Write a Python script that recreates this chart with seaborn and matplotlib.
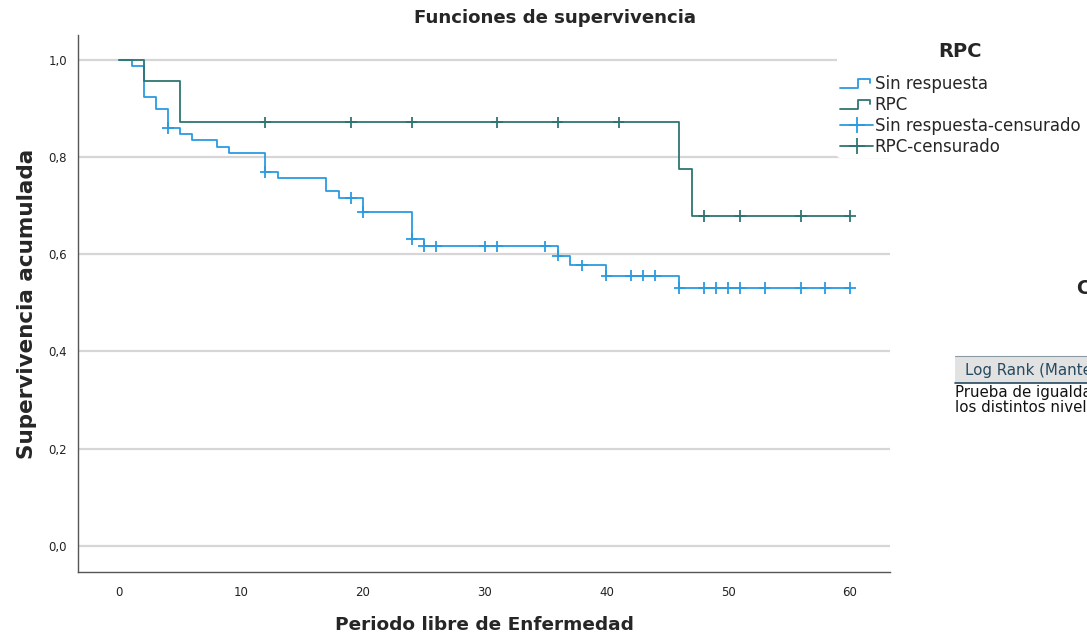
# Curvas de Kaplan-Meier (estilo SPSS) para RPC
import numpy as np
import pandas as pd
import matplotlib
matplotlib.use("Agg")
import matplotlib.pyplot as plt
from matplotlib.lines import Line2D
from matplotlib.legend_handler import HandlerBase
from matplotlib.patches import Rectangle
import seaborn as sns

sns.set_style("white")
plt.rcParams['font.family'] = ['DejaVu Sans']

# Datos
grupos = ['Sin respuesta', 'RPC']
colores = ['#2a9be0', '#2e7572']

sin_resp_t = [0, 1, 2, 3, 4, 5, 6, 8, 9, 12, 13, 17, 18, 20, 24, 25, 36, 37, 40, 46, 60]
sin_resp_s = [1.0, 0.987, 0.924, 0.898, 0.859, 0.847, 0.835, 0.820, 0.808, 0.769, 0.756,
              0.729, 0.715, 0.687, 0.631, 0.616, 0.597, 0.577, 0.556, 0.530, 0.530]
sin_resp_cens = [4, 12, 19, 20, 24, 25, 26, 30, 31, 35, 36, 38, 40, 42, 43, 44, 46,
                 48, 49, 50, 51, 53, 56, 58, 60]

rpc_t = [0, 2, 5, 46, 47, 60]
rpc_s = [1.0, 0.957, 0.871, 0.775, 0.678, 0.678]
rpc_cens = [12, 19, 24, 31, 36, 41, 48, 51, 56, 60]

y_ticks = [0.0, 0.2, 0.4, 0.6, 0.8, 1.0]
x_ticks = [0, 10, 20, 30, 40, 50, 60]

# Tablas largas para seaborn
curvas = pd.concat([
    pd.DataFrame({'t': sin_resp_t, 's': sin_resp_s, 'grupo': grupos[0]}),
    pd.DataFrame({'t': rpc_t, 's': rpc_s, 'grupo': grupos[1]}),
])


def valor_en(tiempos, surv, t):
    i = np.searchsorted(tiempos, t, side='right') - 1
    return surv[i]


censuras = pd.concat([
    pd.DataFrame({'t': sin_resp_cens,
                  's': [valor_en(sin_resp_t, sin_resp_s, c) for c in sin_resp_cens],
                  'grupo': grupos[0]}),
    pd.DataFrame({'t': rpc_cens,
                  's': [valor_en(rpc_t, rpc_s, c) for c in rpc_cens],
                  'grupo': grupos[1]}),
])
paleta = dict(zip(grupos, colores))

fig = plt.figure(figsize=(10.87, 6.39), dpi=100)
ax = fig.add_axes([78 / 1087, 1 - 572 / 639, (890 - 78) / 1087, (572 - 35) / 639])

for yv in y_ticks:
    ax.axhline(yv, color='#d6d6d6', lw=1.6, zorder=0)

sns.lineplot(data=curvas, x='t', y='s', hue='grupo', palette=paleta, estimator=None,
             sort=False, drawstyle='steps-post', lw=1.3, legend=False, ax=ax)
sns.scatterplot(data=censuras, x='t', y='s', hue='grupo', palette=paleta, marker='+',
                s=70, linewidth=1.3, legend=False, ax=ax, zorder=3)

ax.set_xlim(-3.4, 63.3)
ax.set_ylim(-0.054, 1.051)
ax.set_xticks(x_ticks)
ax.set_yticks(y_ticks)
ax.set_yticklabels([f"{v:.1f}".replace('.', ',') for v in y_ticks])
ax.tick_params(axis='both', length=0, labelsize=8.5, colors='#222222')
ax.tick_params(axis='x', pad=10)
ax.tick_params(axis='y', pad=8)
for lado in ['top', 'right']:
    ax.spines[lado].set_visible(False)
for lado in ['left', 'bottom']:
    ax.spines[lado].set_color('#555555')
    ax.spines[lado].set_linewidth(1.0)

ax.set_xlabel('Periodo libre de Enfermedad', fontsize=13.3, fontweight='bold', labelpad=12)
ax.set_ylabel('Supervivencia acumulada', fontsize=15.5, fontweight='bold', labelpad=8)
fig.text(555 / 1087, 1 - 18 / 639, 'Funciones de supervivencia', ha='center', va='center',
         fontsize=13.1, fontweight='bold')


# Leyenda con simbolo escalonado
class HandlerEscalon(HandlerBase):
    def create_artists(self, legend, orig_handle, xdescent, ydescent, width, height,
                       fontsize, trans):
        x0, y0 = -xdescent, -ydescent
        xs = [x0, x0 + width * 0.55, x0 + width * 0.55, x0 + width * 0.9, x0 + width * 0.9]
        ys = [y0 + height * 0.1, y0 + height * 0.1, y0 + height * 0.85, y0 + height * 0.85,
              y0 + height * 0.45]
        ln = Line2D(xs, ys, color=orig_handle.get_color(), lw=1.3, transform=trans)
        return [ln]


h_sr = Line2D([], [], color=colores[0])
h_rpc = Line2D([], [], color=colores[1])
h_sr_c = Line2D([], [], color=colores[0], marker='+', markersize=11, lw=1.3, mew=1.3)
h_rpc_c = Line2D([], [], color=colores[1], marker='+', markersize=11, lw=1.3, mew=1.3)
leg = fig.legend([h_sr, h_rpc, h_sr_c, h_rpc_c],
                 ['Sin respuesta', 'RPC', 'Sin respuesta-censurado', 'RPC-censurado'],
                 handler_map={h_sr: HandlerEscalon(), h_rpc: HandlerEscalon()},
                 title='RPC', loc='upper left', bbox_to_anchor=(829 / 1087, 1 - 31 / 639),
                 frameon=True, facecolor='white', edgecolor='none', framealpha=1.0,
                 fontsize=12, handlelength=2.0, handletextpad=0.1,
                 labelspacing=0.18, borderpad=0.15)
leg.get_title().set_fontweight('bold')
leg.get_title().set_fontsize(14)
leg._legend_box.sep = 10

# Restos de la tabla de SPSS a la derecha
fig.text(1077 / 1087, 1 - 288 / 639, 'Comparaciones globales', ha='left', va='center',
         fontsize=13.5, fontweight='bold')
fig.add_artist(Rectangle((955 / 1087, 1 - 383 / 639), 140 / 1087, 27 / 639,
                         transform=fig.transFigure, facecolor='#e2e2e2', edgecolor='none'))
fig.add_artist(Line2D([955 / 1087, 1], [1 - 356 / 639] * 2, color='#8a9aa5', lw=0.8,
                      transform=fig.transFigure))
fig.add_artist(Line2D([955 / 1087, 1], [1 - 383 / 639] * 2, color='#264a60', lw=1.2,
                      transform=fig.transFigure))
fig.text(965 / 1087, 1 - 370 / 639, 'Log Rank (Mantel-Cox)', ha='left', va='center',
         fontsize=10.8, color='#264a60')
fig.text(955 / 1087, 1 - 400 / 639,
         'Prueba de igualdad de distribuciones de supervivencia para\n'
         'los distintos niveles de RPC.',
         ha='left', va='center', fontsize=10.8, color='#111111', linespacing=1.0)

fig.savefig('out.png', dpi=100)
